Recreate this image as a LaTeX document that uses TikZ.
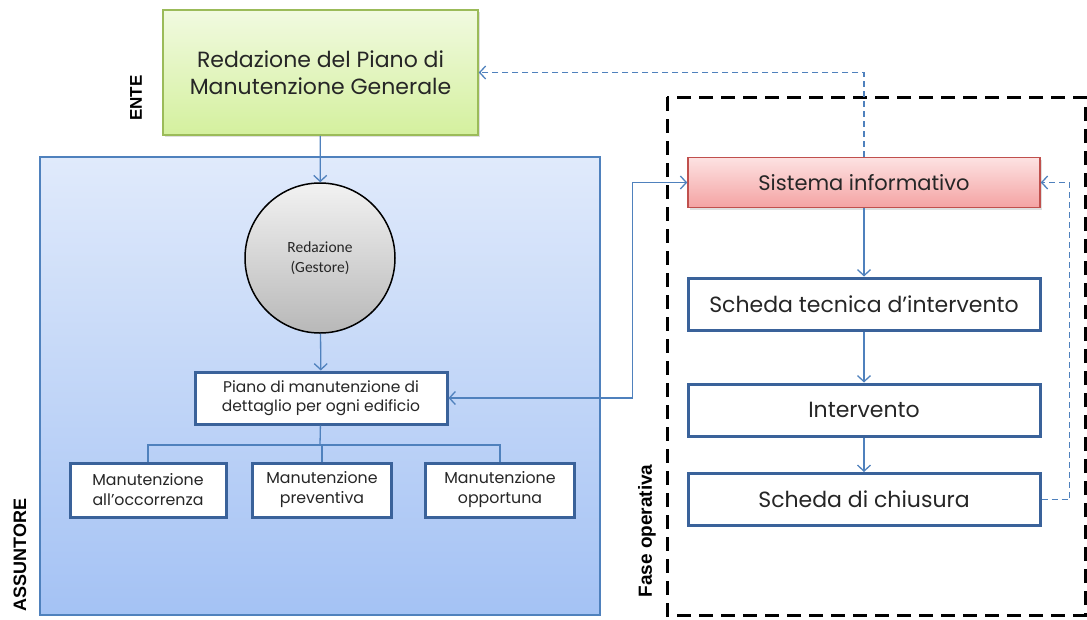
\documentclass[tikz,border=0pt]{standalone}
\usepackage{fontspec}
\setmainfont{Poppins}
\newfontfamily\calibri{Carlito}
\newfontfamily\labelfont{Liberation Sans}
\usetikzlibrary{positioning, arrows.meta, shadows}

\definecolor{linkblue}{HTML}{4F81BD}
\definecolor{boxblue}{HTML}{3A629A}
\definecolor{ink}{HTML}{262626}

\tikzset{
  link/.style={draw=linkblue, line width=1.3pt},
  feedback/.style={link, dash pattern=on 6pt off 4pt},
  stepbox/.style={draw=boxblue, line width=3pt, fill=white, text=ink,
    minimum width=352pt, minimum height=52pt, inner sep=0pt, align=center,
    font=\fontsize{22}{26}\selectfont},
  kindbox/.style={stepbox, minimum height=54pt,
    font=\fontsize{15.8}{20}\selectfont},
  sidelabel/.style={rotate=90, text=black, font=\labelfont\bfseries},
}

\begin{document}
\begin{tikzpicture}[x=1pt, y=-1pt, >={Straight Barb[length=6pt, width=13pt]}]
                \useasboundingbox (0, 0) rectangle (1087, 619);

                % fasce di sfondo
                \shade [top color={rgb,255:red,224;green,234;blue,251}, bottom color={rgb,255:red,164;green,194;blue,244}]
                    (40, 157) rectangle (600, 615);
                \draw [draw=linkblue, line width=1.3pt] (40, 157) rectangle (600, 615);
                \draw [black, line width=3pt, dash pattern=on 14pt off 8pt] (667, 97) rectangle (1085, 615);

                \node [sidelabel, font=\labelfont\bfseries\fontsize{17}{17}\selectfont] (ente_lbl) at (136, 98) {ENTE};
                \node [sidelabel, font=\labelfont\bfseries\fontsize{18}{18}\selectfont] (assuntore_lbl) at (20, 555) {ASSUNTORE};
                \node [sidelabel, font=\labelfont\bfseries\fontsize{19}{19}\selectfont] (fase_lbl) at (647, 531) {Fase operativa};

                % ente
                \node [draw={rgb,255:red,155;green,187;blue,89}, line width=1.5pt,
                       top color={rgb,255:red,241;green,250;blue,224}, bottom color={rgb,255:red,212;green,240;blue,158},
                       drop shadow={opacity=0.25, shadow xshift=2pt, shadow yshift=-2pt},
                       minimum width=315pt, minimum height=125pt, inner sep=0pt, align=center, text=ink,
                       font=\fontsize{22}{26.5}\selectfont] (ente) at (320.5, 72.5)
                    {Redazione del Piano di\\Manutenzione Generale};

                % assuntore
                \node [circle, draw=black, line width=1.5pt, minimum size=150pt, inner sep=0pt,
                       top color={rgb,255:red,242;green,242;blue,242}, bottom color={rgb,255:red,184;green,184;blue,184},
                       align=center, text=ink, font=\calibri\fontsize{15.5}{20}\selectfont] (gestore) at (320, 258)
                    {Redazione\\(Gestore)};
                \node [stepbox, minimum width=252pt, font=\fontsize{15.5}{19}\selectfont] (piano) at (321, 398)
                    {Piano di manutenzione di\\dettaglio per ogni edificio};
                \node [kindbox, minimum width=156pt] (occorrenza) at (148, 490) {Manutenzione\\all’occorrenza};
                \node [kindbox, minimum width=139pt] (preventiva) at (322, 490) {Manutenzione\\preventiva};
                \node [kindbox, minimum width=149pt] (opportuna) at (500, 490) {Manutenzione\\opportuna};
                \coordinate (fork) at (320, 445);

                % fase operativa
                \node [stepbox, draw={rgb,255:red,192;green,80;blue,77}, line width=1.5pt,
                       top color={rgb,255:red,253;green,226;blue,226}, bottom color={rgb,255:red,244;green,163;blue,163},
                       drop shadow={opacity=0.25, shadow xshift=2pt, shadow yshift=-2pt},
                       minimum height=50pt, font=\fontsize{21}{24}\selectfont] (sistema) at (864, 182.5) {Sistema informativo};
                \node [stepbox] (tecnica) at (864, 304) {Scheda tecnica d’intervento};
                \node [stepbox] (intervento) at (864, 410) {Intervento};
                \node [stepbox] (chiusura) at (864, 499.5) {Scheda di chiusura};

                \draw [link, ->] (ente) -- (gestore);
                \draw [link, ->] (gestore) -- (piano);
                \draw [link] (piano) -- (fork);
                \draw [link] (fork) -| (occorrenza);
                \draw [link] (fork) -| (preventiva);
                \draw [link] (fork) -| (opportuna);

                \draw [link, <->] (piano.east) -- ++(184, 0) |- (sistema.west);
                \draw [feedback, ->] (sistema.north) |- (ente.east);
                \draw [link, ->] (sistema) -- (tecnica);
                \draw [link, ->] (tecnica) -- (intervento);
                \draw [link, ->] (intervento) -- (chiusura);
                \draw [feedback, ->] (chiusura.east) -- ++(28, 0) |- (sistema.east);
            \end{tikzpicture}
\end{document}
